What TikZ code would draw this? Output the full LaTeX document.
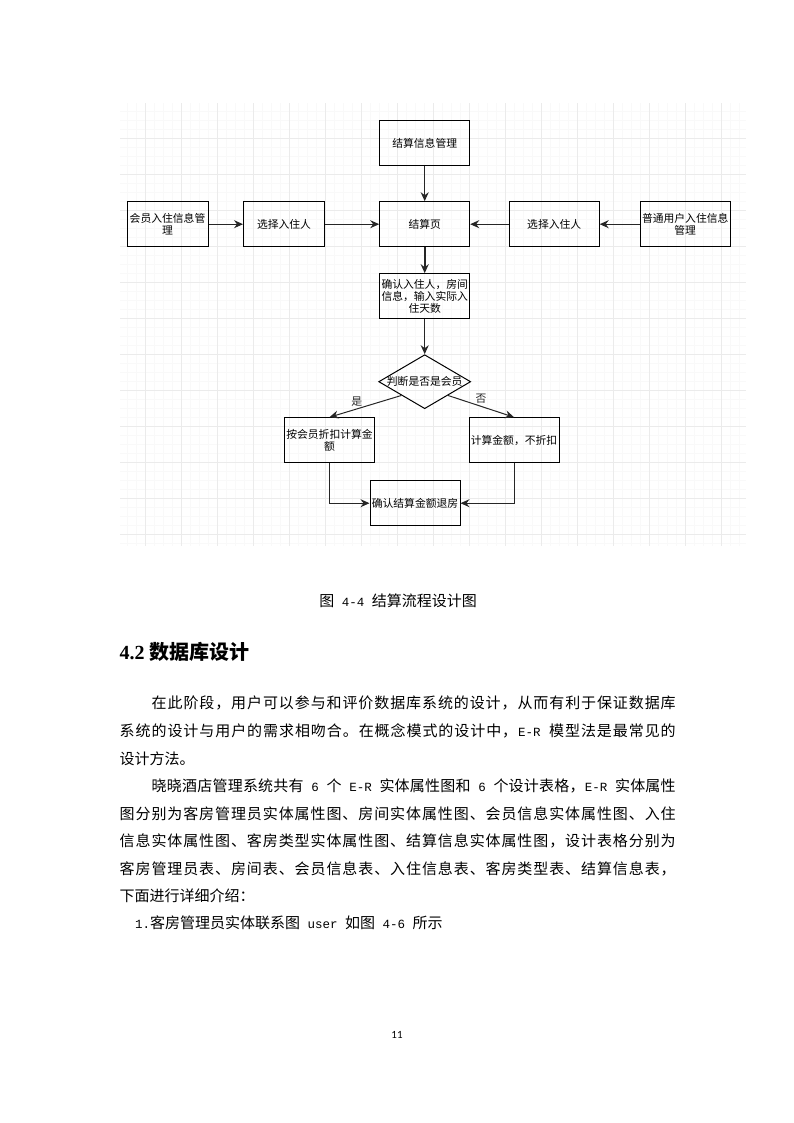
\documentclass[tikz,border=0pt]{standalone}
\usepackage{fontspec}
\setmainfont{Liberation Serif}
\newfontfamily\cjk{Noto Sans CJK SC}
\newfontfamily\latm{Liberation Mono}[Scale=0.833]
\newfontfamily\pgnum{Carlito}
\usetikzlibrary{arrows.meta,calc,shapes.geometric}

\newcommand\fcfont{\cjk\fontsize{10.8pt}{12pt}\selectfont}
\newcommand\bodyfont{\cjk\fontsize{15pt}{18pt}\selectfont}

% spread one line of text over a given width
\def\jlend{jlend}
\def\jl#1{\ifx\jlend#1\else\hfil{#1}\expandafter\jl\fi}
\def\jlfirst#1{{#1}\jl}
\newcommand\jline[2]{\makebox[#1][s]{\jlfirst#2\jlend}}

\tikzset{
  box/.style={draw,line width=1pt,minimum width=90pt,minimum height=45pt,inner sep=1pt,align=center,font=\fcfont},
  decision/.style={draw,diamond,line width=1pt,minimum width=92pt,minimum height=54pt,inner sep=0pt,aspect=1.7},
  arr/.style={-{Stealth[length=9pt,width=8pt,inset=3pt]},line width=1pt,black!85},
  lbl/.style={font=\fcfont,inner sep=1pt},
  txt/.style={anchor=base west,inner sep=0pt,font=\bodyfont},
  gridminor/.style={line width=0.6pt,black!2.5},
  gridmajor/.style={line width=0.8pt,black!8}
}

\begin{document}
\begin{tikzpicture}[x=1pt,y=-1pt]
\useasboundingbox (0,0) rectangle (794,1123);

% grid behind the flow chart
\foreach \m in {-2,...,66} \draw[gridminor] ({145.7+9*\m},103) -- ({145.7+9*\m},546);
\foreach \n in {-3,...,45} \draw[gridminor] (120,{138.7+9*\n}) -- (746,{138.7+9*\n});
\foreach \k in {0,...,16} \draw[gridmajor] ({145.7+36*\k},103) -- ({145.7+36*\k},546);
\foreach \k in {0,...,11} \draw[gridmajor] (120,{138.7+36*\k}) -- (746,{138.7+36*\k});

% flow chart
\node[box] (jsgl) at (424.7,143.2) {结算信息管理};
\node[box] (jsy) at (424.7,224.2) {结算页};
\node[box,minimum width=81pt] (hyrz) at (167.5,224.2) {会员入住信息管\\理};
\node[box,minimum width=81pt] (xzl) at (284,224.2) {选择入住人};
\node[box] (xzr) at (554.2,224.2) {选择入住人};
\node[box] (ptrz) at (685.2,224.2) {普通用户入住信息\\管理};
\node[box] (qrrz) at (424.7,296.2) {确认入住人，房间\\信息，输入实际入\\住天数};
\node[decision,label={[lbl]center:判断是否是会员}] (pd) at (424.7,381.7) {};
\node[box] (hyzk) at (329.5,440.2) {按会员折扣计算金\\额};
\node[box] (bzk) at (514,440.2) {计算金额，不折扣};
\node[box] (tf) at (415,503.2) {确认结算金额退房};

\draw[arr] (hyrz) -- (xzl);
\draw[arr] (xzl) -- (jsy);
\draw[arr] (ptrz) -- (xzr);
\draw[arr] (xzr) -- (jsy);
\draw[arr] (jsgl) -- (jsy);
\draw[arr,line width=1.6pt] (jsy) -- (qrrz);
\draw[arr] (qrrz) -- (pd);
\draw[arr] ($(pd.west)!0.5!(pd.south)$) -- node[lbl,pos=0.62,above=1pt] {是} (hyzk.north);
\draw[arr] ($(pd.east)!0.5!(pd.south)$) -- node[lbl,pos=0.5,above=1pt] {否} (bzk.north);
\draw[arr] (hyzk.south) |- (tf.west);
\draw[arr] (bzk.south) |- (tf.east);

% caption, heading and body text
\node[txt,anchor=base] (cap) at (398,606.7) {图{\latm\ 4-4\ }结算流程设计图};
\node[txt,font=\cjk\fontsize{20pt}{24pt}\selectfont\bfseries] (h42) at (119.5,659.6) {{\rmfamily\bfseries 4.2}\ 数据库设计};
\node[txt] (l1) at (151.5,708) {\jline{524pt}{在此阶段，用户可以参与和评价数据库系统的设计，从而有利于保证数据库}};
\node[txt] (l2) at (119.5,736) {\jline{556pt}{系统的设计与用户的需求相吻合。在概念模式的设计中，{\latm E-R\ }模型法是最常见的}};
\node[txt] (l3) at (119.5,764) {设计方法。};
\node[txt] (l4) at (151.5,791) {\jline{524pt}{晓晓酒店管理系统共有{\latm\ 6\ }个{\latm\ E-R\ }实体属性图和{\latm\ 6\ }个设计表格，{\latm E-R\ }实体属性}};
\node[txt] (l5) at (119.5,819) {\jline{556pt}{图分别为客房管理员实体属性图、房间实体属性图、会员信息实体属性图、入住}};
\node[txt] (l6) at (119.5,846) {\jline{556pt}{信息实体属性图、客房类型实体属性图、结算信息实体属性图，设计表格分别为}};
\node[txt] (l7) at (119.5,874) {\jline{556pt}{客房管理员表、房间表、会员信息表、入住信息表、客房类型表、结算信息表，}};
\node[txt] (l8) at (119.5,901) {下面进行详细介绍：};
\node[txt] (l9) at (135,928) {{\latm 1.}客房管理员实体联系图{\latm\ user\ }如图{\latm\ 4-6\ }所示};

% page number
\node[anchor=base,inner sep=0pt,font=\pgnum\fontsize{11pt}{13pt}\selectfont] (pg) at (397,1038.5) {11};
\end{tikzpicture}
\end{document}
